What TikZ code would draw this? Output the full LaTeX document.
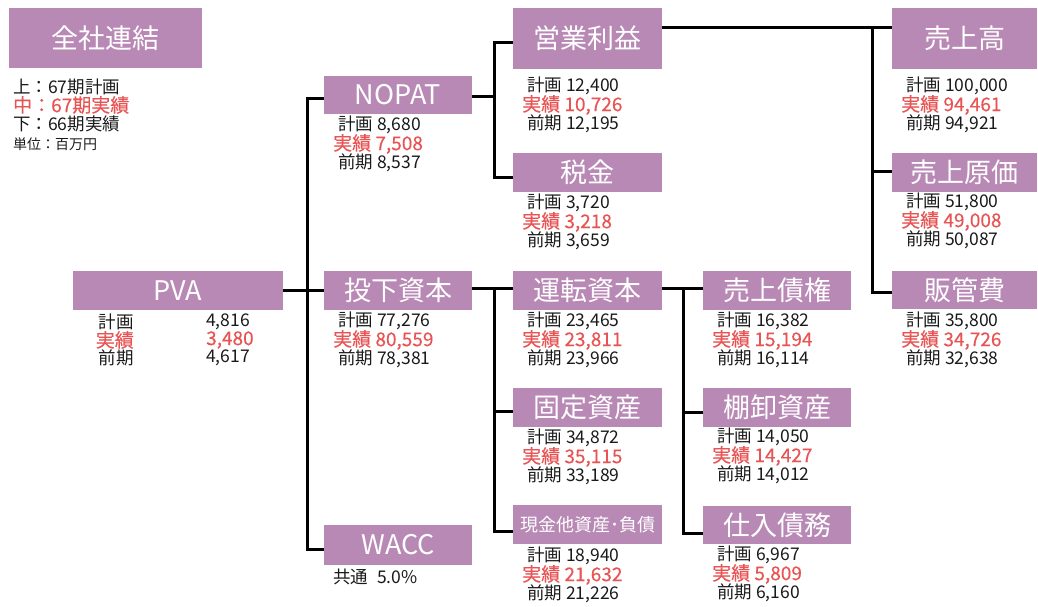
\documentclass[tikz,border=0pt]{standalone}
\usepackage{fontspec}
\setmainfont{Noto Sans CJK JP}
\usetikzlibrary{calc}
\definecolor{boxpurple}{RGB}{185,137,182}
\definecolor{actred}{RGB}{232,84,84}
\definecolor{txtblack}{RGB}{26,26,26}
\tikzset{
  titlebox/.style={fill=boxpurple, text=white, inner sep=0pt, font=\fontsize{27}{30}\selectfont},
  valtxt/.style={inner sep=0pt, text=txtblack, font=\fontsize{17.5}{19}\selectfont},
  redtxt/.style={inner sep=0pt, text=actred, font=\fontsize{19}{21}\selectfont\addfontfeature{FakeBold=0.3}},
  smalltxt/.style={inner sep=0pt, text=txtblack, font=\fontsize{14}{16}\selectfont},
  conn/.style={line width=3pt, draw=black},
}
\newcommand{\valblock}[6]{%
  \node[valtxt, anchor=west] (#1p) at (#2+14,#3) {計画 #4};
  \node[redtxt, anchor=west] (#1a) at (#2+9,#3+19) {実績 #5};
  \node[valtxt, anchor=west] (#1f) at (#2+14,#3+38) {前期 #6};}
\begin{document}
\begin{tikzpicture}[x=1pt,y=-1pt]
\useasboundingbox (0,0) rectangle (1038,607);

% boxes
\node[titlebox, minimum width=193pt, minimum height=60pt] (zensha) at (105.5,38) {全社連結};
\node[titlebox, minimum width=210pt, minimum height=39pt] (pva) at (178,290.5) {PVA};
\node[titlebox, minimum width=148pt, minimum height=38pt] (nopat) at (398,95) {NOPAT};
\node[titlebox, minimum width=148pt, minimum height=39pt] (toka) at (398,290.5) {投下資本};
\node[titlebox, minimum width=148pt, minimum height=40pt] (wacc) at (398,545) {WACC};
\node[titlebox, minimum width=149pt, minimum height=61pt] (eigyo) at (587.5,38.5) {営業利益};
\node[titlebox, minimum width=149pt, minimum height=39pt] (zei) at (587.5,172.5) {税金};
\node[titlebox, minimum width=149pt, minimum height=39pt] (unten) at (587.5,290.5) {運転資本};
\node[titlebox, minimum width=149pt, minimum height=39pt] (kotei) at (587.5,407.5) {固定資産};
\node[titlebox, minimum width=149pt, minimum height=39pt, font=\fontsize{18}{20}\selectfont] (genkin) at (587.5,524.5) {現金他資産･負債};
\node[titlebox, minimum width=148pt, minimum height=39pt] (saiken) at (777,290.5) {売上債権};
\node[titlebox, minimum width=148pt, minimum height=39pt] (tana) at (777,407.5) {棚卸資産};
\node[titlebox, minimum width=148pt, minimum height=38pt] (shiire) at (777,525) {仕入債務};
\node[titlebox, minimum width=145pt, minimum height=61pt] (uriage) at (964.5,38.5) {売上高};
\node[titlebox, minimum width=145pt, minimum height=39pt] (genka) at (964.5,172.5) {売上原価};
\node[titlebox, minimum width=145pt, minimum height=38pt] (hankan) at (964.5,290) {販管費};

% legend
\node[valtxt, anchor=west] (lg1) at (13,87) {上：67期計画};
\node[redtxt, anchor=west] (lg2) at (13,105) {中：67期実績};
\node[valtxt, anchor=west] (lg3) at (13,124) {下：66期実績};
\node[smalltxt, anchor=west] (lg4) at (13,144) {単位：百万円};

% PVA values
\node[valtxt, anchor=east] (pvalp) at (134,322) {計画};
\node[redtxt, anchor=east] (pvala) at (134,340) {実績};
\node[valtxt, anchor=east] (pvalf) at (134,358) {前期};
\node[valtxt, anchor=west] (pvanp) at (206,322) {4,816};
\node[redtxt, anchor=west] (pvana) at (206,340) {3,480};
\node[valtxt, anchor=west] (pvanf) at (206,358) {4,617};

% WACC
\node[valtxt, anchor=west] (waccv) at (333,577) {共通\hspace{9pt}5.0\%};

% value blocks
\valblock{nopat}{324}{125}{8,680}{7,508}{8,537}
\valblock{eigyo}{513}{86}{12,400}{10,726}{12,195}
\valblock{zei}{513}{203}{3,720}{3,218}{3,659}
\valblock{uriage}{892}{86}{100,000}{94,461}{94,921}
\valblock{genka}{892}{202}{51,800}{49,008}{50,087}
\valblock{hankan}{892}{321}{35,800}{34,726}{32,638}
\valblock{toka}{324}{321}{77,276}{80,559}{78,381}
\valblock{unten}{513}{321}{23,465}{23,811}{23,966}
\valblock{saiken}{703}{321}{16,382}{15,194}{16,114}
\valblock{kotei}{513}{438}{34,872}{35,115}{33,189}
\valblock{tana}{703}{437}{14,050}{14,427}{14,012}
\valblock{genkin}{513}{556}{18,940}{21,632}{21,226}
\valblock{shiire}{703}{555}{6,967}{5,809}{6,160}

% junction x positions
\coordinate (j1) at (307,0);
\coordinate (j2) at (494,0);
\coordinate (j3) at (683,0);
\coordinate (j4) at (872,0);

% PVA tree
\coordinate (nopatin) at ([yshift=-4pt]nopat.west);
\coordinate (waccin) at ([yshift=-4pt]wacc.west);
\draw[conn] (nopatin) -| (j1 |- waccin) -- (waccin);
\draw[conn] (pva.east) -- (toka.west);

% NOPAT tree
\coordinate (eigyoin) at ([yshift=-4pt]eigyo.west);
\coordinate (zeiin) at ([yshift=-4.5pt]zei.west);
\draw[conn] (eigyoin) -| (j2 |- zeiin) -- (zeiin);
\draw[conn] ([yshift=-2pt]nopat.east) -- ([yshift=-2pt]nopat.east -| j2);

% 営業利益 tree
\coordinate (eigyoout) at ([yshift=11pt]eigyo.east);
\coordinate (uriagein) at ([yshift=11pt]uriage.west);
\coordinate (genkain) at ([yshift=1.5pt]genka.west);
\coordinate (hankanin) at ([yshift=-2pt]hankan.west);
\draw[conn] (eigyoout) -- (uriagein);
\draw[conn] (j4 |- uriagein) |- (hankanin);
\draw[conn] (j4 |- genkain) -- (genkain);

% 投下資本 tree
\coordinate (untenin) at ([yshift=2pt]unten.west);
\coordinate (koteiin) at ([yshift=-3.5pt]kotei.west);
\coordinate (genkinin) at ([yshift=-6.5pt]genkin.west);
\draw[conn] ([yshift=2pt]toka.east) -- (untenin);
\draw[conn] (j2 |- untenin) |- (genkinin);
\draw[conn] (j2 |- koteiin) -- (koteiin);

% 運転資本 tree
\coordinate (saikenin) at ([yshift=2pt]saiken.west);
\coordinate (tanain) at ([yshift=-4.5pt]tana.west);
\coordinate (shiirein) at ([yshift=-8pt]shiire.west);
\draw[conn] ([yshift=2pt]unten.east) -- (saikenin);
\draw[conn] (j3 |- saikenin) |- (shiirein);
\draw[conn] (j3 |- tanain) -- (tanain);
\end{tikzpicture}
\end{document}
